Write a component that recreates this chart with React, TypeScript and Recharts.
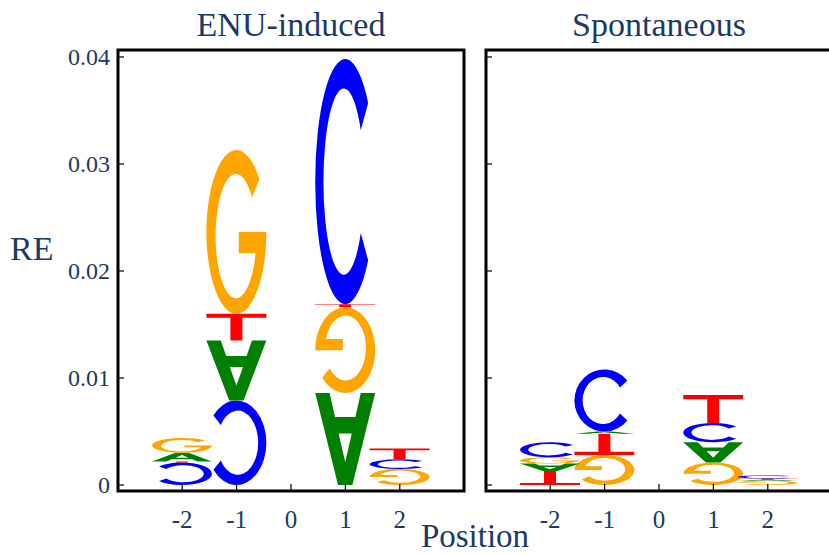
import React from 'react';
import { ComposedChart, Bar, XAxis, YAxis, ReferenceArea } from 'recharts';

const positions = [-2, -1, 0, 1, 2];
const xTicks = [-2, -1, 0, 1, 2];
const yTicks = [0, 0.01, 0.02, 0.03, 0.04];

// each stack is listed bottom -> top; flipped letters are drawn rotated 180deg
const enuLetters = [['C', 'T', 'A', 'G'], ['C', 'A', 'T', 'G'], [], ['A', 'G', 'T', 'C'], ['G', 'C', 'T']];
const enuValues = [
  [0.0021, 0.0001, 0.0008, 0.0014],
  [0.0079, 0.0056, 0.0025, 0.0153],
  [],
  [0.0086, 0.008, 0.0003, 0.0229],
  [0.0015, 0.0009, 0.001],
];
const enuFlipped = [[1, 0, 0, 0], [1, 1, 0, 0], [], [1, 1, 0, 0], [1, 0, 0]];

const spoLetters = [['T', 'A', 'G', 'C'], ['G', 'T', 'A', 'C'], [], ['G', 'A', 'C', 'T'], ['G', 'A', 'T', 'C']];
const spoValues = [
  [0.0013, 0.0007, 0.0006, 0.0014],
  [0.0028, 0.002, 0.0002, 0.0058],
  [],
  [0.0021, 0.0019, 0.0018, 0.0026],
  [0.0004, 0.0001, 0.0001, 0.0003],
];
const spoFlipped = [[1, 1, 0, 0], [1, 1, 0, 0], [], [1, 1, 0, 0], [1, 0, 0, 0]];

const TEXT = '#1b3a66';
const FONT = '"Liberation Serif", "Times New Roman", serif';
const X_DOMAIN = [-3.18, 3.18];
const Y_DOMAIN = [-0.00056, 0.04065];
const LEVELS = [0, 1, 2, 3];
// letters are a little wider than one position slot
const LETTER_STRETCH = 1.11;

const LETTER_COLORS: Record<string, string> = {
  A: '#008000',
  C: '#0000ff',
  G: '#ffa500',
  T: '#ff0000',
};

// glyphs drawn in a 100x100 box, then stretched to the segment
const LETTER_PATHS: Record<string, string> = {
  A: 'M0 100 L38 0 L62 0 L100 100 L76 100 L67 74 L33 74 L24 100 Z M39 56 L61 56 L50 25 Z',
  C: 'M88.3 17.9 A50 50 0 1 0 88.3 82.1 L76 71 A34 38 0 1 1 76 29 Z',
  G: 'M88.3 17.9 A50 50 0 1 0 100 50 L54 50 L54 63 L82 63 A34 38 0 1 1 76 29 Z',
  T: 'M0 0 L100 0 L100 15 L60 15 L60 100 L40 100 L40 15 L0 15 Z',
};

function buildRows(values: number[][]) {
  return positions.map((pos, i) => {
    const row: Record<string, number> = { pos };
    values[i].forEach((v, level) => {
      row[`s${level}`] = v;
    });
    return row;
  });
}

const makeLetterShape = (letters: string[][], flipped: number[][], level: number) => (props: any) => {
  const { x, y, width, height, index } = props;
  const letter = letters[index]?.[level];
  if (!letter || !(height > 0)) return <g />;
  const w = width * LETTER_STRETCH;
  const left = x + width / 2 - w / 2;
  const transform = flipped[index][level]
    ? `translate(${left + w} ${y + height}) scale(${-w / 100} ${-height / 100})`
    : `translate(${left} ${y}) scale(${w / 100} ${height / 100})`;
  return (
    <path d={LETTER_PATHS[letter]} fill={LETTER_COLORS[letter]} fillRule="evenodd" transform={transform} />
  );
};

const XTick = ({ x, y, payload }: any) => (
  <g>
    <line x1={x} x2={x} y1={y} y2={y - 7} stroke="#000" strokeWidth={1.2} />
    <text x={x} y={y + 37} textAnchor="middle" fontSize={25} fontFamily={FONT} fill={TEXT}>
      {payload.value}
    </text>
  </g>
);

const YTick = ({ x, y, payload, showLabel }: any) => (
  <g>
    <line x1={x} x2={x + 6} y1={y} y2={y} stroke="#000" strokeWidth={1.2} />
    {showLabel && (
      <text x={x - 8} y={y} dy="0.35em" textAnchor="end" fontSize={24} fontFamily={FONT} fill={TEXT}>
        {payload.value}
      </text>
    )}
  </g>
);

function LogoPanel({ values, letters, flipped, showLabels, yAxisWidth, width }: any) {
  const rows = buildRows(values);
  return (
    <ComposedChart width={width} height={555} data={rows} margin={{ top: 50, right: 10, bottom: 0, left: 0 }}>
      <XAxis
        dataKey="pos"
        type="number"
        domain={X_DOMAIN}
        ticks={xTicks}
        allowDataOverflow
        height={64}
        tickSize={0}
        tickMargin={0}
        axisLine={false}
        tick={<XTick />}
        interval={0}
      />
      <YAxis
        type="number"
        domain={Y_DOMAIN}
        ticks={yTicks}
        allowDataOverflow
        width={yAxisWidth}
        tickSize={0}
        tickMargin={0}
        axisLine={false}
        tick={<YTick showLabel={showLabels} />}
        interval={0}
      />
      {LEVELS.map((level) => (
        <Bar
          key={level}
          dataKey={`s${level}`}
          stackId="logo"
          barSize={54}
          isAnimationActive={false}
          shape={makeLetterShape(letters, flipped, level)}
        />
      ))}
      <ReferenceArea
        x1={X_DOMAIN[0]}
        x2={X_DOMAIN[1]}
        y1={Y_DOMAIN[0]}
        y2={Y_DOMAIN[1]}
        fill="none"
        stroke="#000"
        strokeWidth={3}
        ifOverflow="visible"
      />
    </ComposedChart>
  );
}

export default function App() {
  return (
    <div
      style={{
        position: 'fixed',
        left: 0,
        top: 0,
        width: 829,
        height: 555,
        overflow: 'hidden',
        background: '#fff',
      }}
    >
      <div style={{ position: 'absolute', left: 0, top: 0 }}>
        <LogoPanel values={enuValues} letters={enuLetters} flipped={enuFlipped} showLabels yAxisWidth={118} width={474} />
      </div>
      <div style={{ position: 'absolute', left: 466, top: 0 }}>
        <LogoPanel values={spoValues} letters={spoLetters} flipped={spoFlipped} showLabels={false} yAxisWidth={20} width={376} />
      </div>
      <svg width={829} height={555} style={{ position: 'absolute', left: 0, top: 0, pointerEvents: 'none' }}>
        <text x={291} y={36} textAnchor="middle" fontSize={34} fontFamily={FONT} fill={TEXT}>
          ENU-induced
        </text>
        <text x={659} y={36} textAnchor="middle" fontSize={34} fontFamily={FONT} fill={TEXT}>
          Spontaneous
        </text>
        <text x={10} y={260} fontSize={34} fontFamily={FONT} fill={TEXT}>
          RE
        </text>
        <text x={475} y={547} textAnchor="middle" fontSize={33} fontFamily={FONT} fill={TEXT}>
          Position
        </text>
      </svg>
    </div>
  );
}
